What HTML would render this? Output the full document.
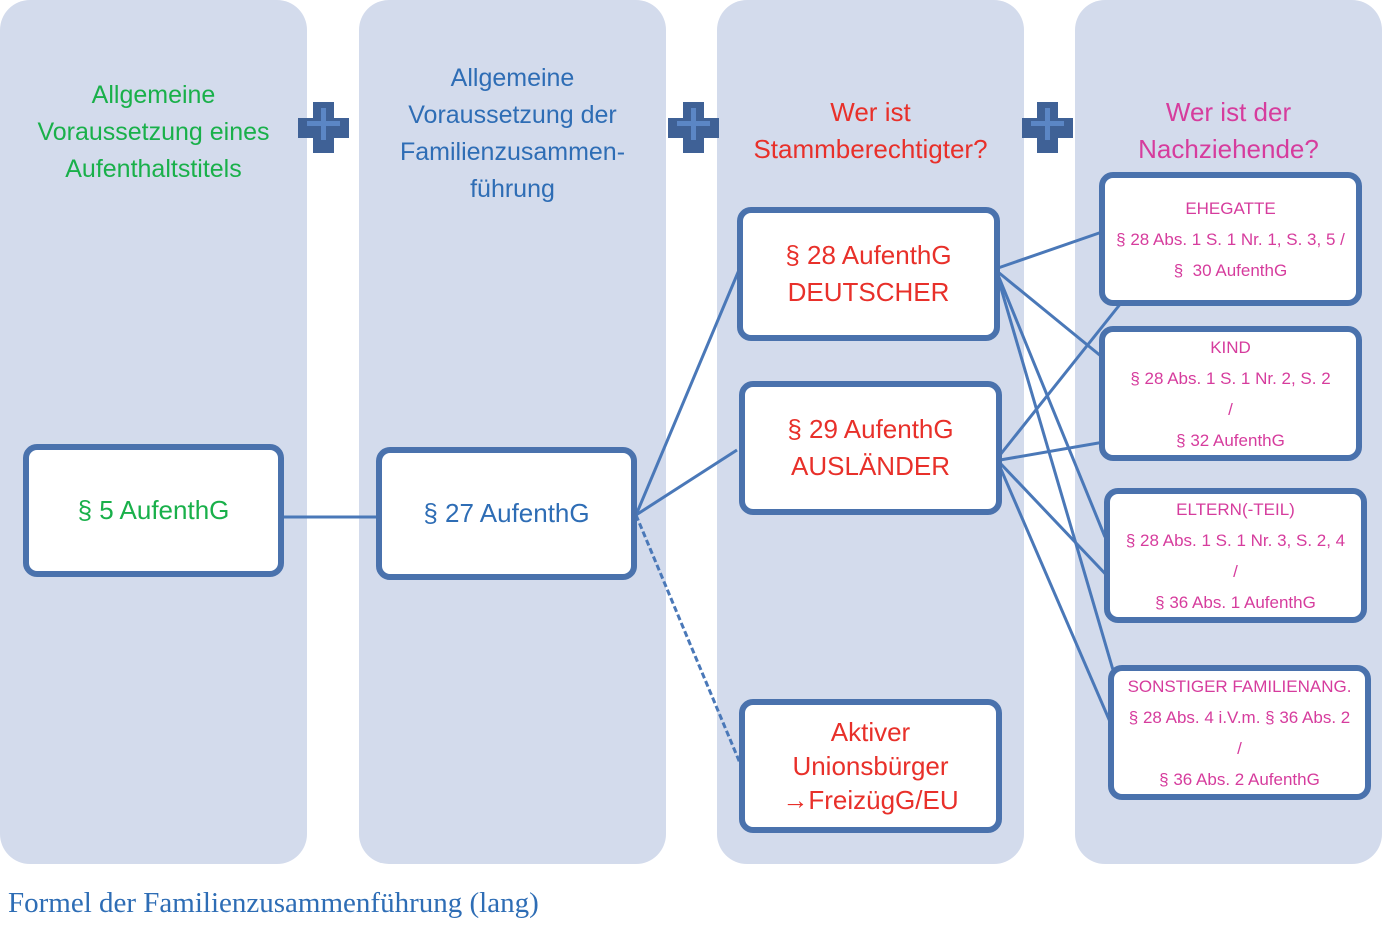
<!DOCTYPE html>
<html><head><meta charset="utf-8"><style>
body{margin:0;width:1384px;height:925px;background:#fff;position:relative;font-family:"Liberation Sans","DejaVu Sans",sans-serif;overflow:hidden}
.col{position:absolute;top:0;width:307px;height:864px;background:#d3dbec;border-radius:30px}
.t{position:absolute;text-align:center;font-size:25px;line-height:37px}
.box{position:absolute;background:#fff;border:6px solid #4a72ad;border-radius:14px;box-sizing:border-box;display:flex;flex-direction:column;justify-content:center;align-items:center;text-align:center}
.p{color:#d63c9d;font-size:17px;line-height:31px}
.r{color:#e8302a;font-size:26px;line-height:37px}
svg{position:absolute;left:0;top:0}
</style></head><body>
<div class="col" style="left:0"></div>
<div class="col" style="left:359px"></div>
<div class="col" style="left:717px"></div>
<div class="col" style="left:1075px"></div>

<div class="t" style="left:0;width:307px;top:77px;color:#19b04a">Allgemeine<br>Voraussetzung eines<br>Aufenthaltstitels</div>
<div class="t" style="left:359px;width:307px;top:60px;color:#2e6db5">Allgemeine<br>Voraussetzung der<br>Familienzusammen-<br>führung</div>
<div class="t" style="left:717px;width:307px;top:94px;color:#e8302a;font-size:26px;line-height:37px">Wer ist<br>Stammberechtigter?</div>
<div class="t" style="left:1075px;width:307px;top:94px;color:#d63c9d;font-size:26px;line-height:37px">Wer ist der<br>Nachziehende?</div>

<svg width="1384" height="925">
<g>
<path d="M313 102h21v16h15v20h-15v15h-21v-15h-15v-20h15z" fill="#3f6196"/>
<path d="M321 108h5v13h14v5h-14v14h-5v-14h-14v-5h14z" fill="#5b86c5"/>
</g>
<g transform="translate(370,0)">
<path d="M313 102h21v16h15v20h-15v15h-21v-15h-15v-20h15z" fill="#3f6196"/>
<path d="M321 108h5v13h14v5h-14v14h-5v-14h-14v-5h14z" fill="#5b86c5"/>
</g>
<g transform="translate(724,0)">
<path d="M313 102h21v16h15v20h-15v15h-21v-15h-15v-20h15z" fill="#3f6196"/>
<path d="M321 108h5v13h14v5h-14v14h-5v-14h-14v-5h14z" fill="#5b86c5"/>
</g>
<g stroke="#4a78b8" stroke-width="3" fill="none">
<line x1="283" y1="517" x2="378" y2="517"/>
<line x1="636" y1="515" x2="739" y2="270"/>
<line x1="636" y1="515" x2="737" y2="450"/>
<line x1="636" y1="515" x2="745" y2="775" stroke-dasharray="6,3"/>
<line x1="998" y1="268" x2="1102" y2="232"/>
<line x1="998" y1="272" x2="1118" y2="370"/>
<line x1="998" y1="275" x2="1105" y2="537"/>
<line x1="998" y1="278" x2="1113" y2="670"/>
<line x1="1000" y1="455" x2="1133" y2="288"/>
<line x1="1000" y1="460" x2="1133" y2="437"/>
<line x1="1000" y1="463" x2="1133" y2="603"/>
<line x1="1000" y1="467" x2="1133" y2="775"/>
</g>
</svg>

<div class="box" style="left:23px;top:444px;width:261px;height:133px;color:#19b04a;font-size:26px">§ 5 AufenthG</div>
<div class="box" style="left:376px;top:447px;width:261px;height:133px;color:#2e6db5;font-size:26px">§ 27 AufenthG</div>
<div class="box r" style="left:737px;top:207px;width:263px;height:134px">§ 28 AufenthG<br>DEUTSCHER</div>
<div class="box r" style="left:739px;top:381px;width:263px;height:134px">§ 29 AufenthG<br>AUSLÄNDER</div>
<div class="box r" style="left:739px;top:699px;width:263px;height:134px;line-height:34px">Aktiver<br>Unionsbürger<br>→FreizügG/EU</div>
<div class="box p" style="left:1099px;top:172px;width:263px;height:134px">EHEGATTE<br>§ 28 Abs. 1 S. 1 Nr. 1, S. 3, 5 /<br>§&nbsp; 30 AufenthG</div>
<div class="box p" style="left:1099px;top:326px;width:263px;height:135px">KIND<br>§ 28 Abs. 1 S. 1 Nr. 2, S. 2<br>/<br>§ 32 AufenthG</div>
<div class="box p" style="left:1104px;top:488px;width:263px;height:135px">ELTERN(-TEIL)<br>§ 28 Abs. 1 S. 1 Nr. 3, S. 2, 4<br>/<br>§ 36 Abs. 1 AufenthG</div>
<div class="box p" style="left:1108px;top:665px;width:263px;height:135px">SONSTIGER FAMILIENANG.<br>§ 28 Abs. 4 i.V.m. § 36 Abs. 2<br>/<br>§ 36 Abs. 2 AufenthG</div>

<div style="position:absolute;left:8px;top:887px;font-family:'Liberation Serif',serif;font-size:29px;color:#2e6db5">Formel der Familienzusammenführung (lang)</div>
</body></html>
